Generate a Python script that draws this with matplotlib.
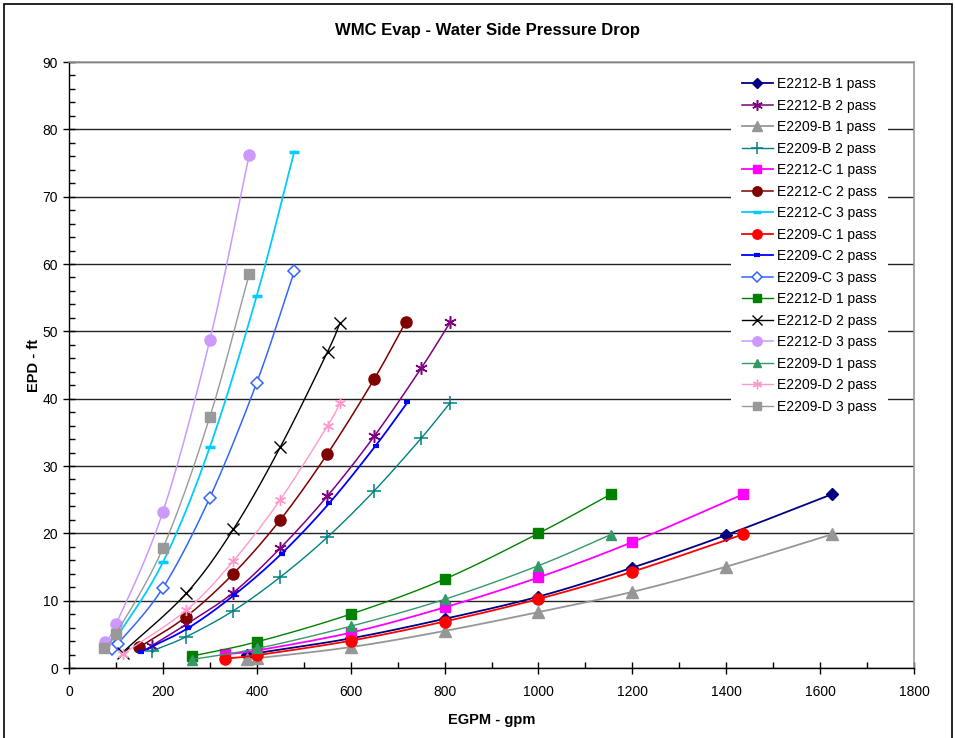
import numpy as np
import matplotlib
matplotlib.use("Agg")
import matplotlib.pyplot as plt
from matplotlib.patches import Rectangle

plt.rcParams['font.family'] = ['Liberation Sans', 'DejaVu Sans']

# === data (gpm, ft) ===
labels = ["E2212-B 1 pass", "E2212-B 2 pass", "E2209-B 1 pass", "E2209-B 2 pass",
          "E2212-C 1 pass", "E2212-C 2 pass", "E2212-C 3 pass", "E2209-C 1 pass",
          "E2209-C 2 pass", "E2209-C 3 pass", "E2212-D 1 pass", "E2212-D 2 pass",
          "E2212-D 3 pass", "E2209-D 1 pass", "E2209-D 2 pass", "E2209-D 3 pass"]

b12_1_x = [380, 600, 800, 1000, 1200, 1400, 1625]
b12_1_y = [2.0, 4.4, 7.3, 10.6, 14.9, 19.75, 25.8]
b12_2_x = [176, 250, 350, 450, 550, 650, 750, 812]
b12_2_y = [3.3, 6.5, 11.2, 17.8, 25.5, 34.4, 44.5, 51.35]
b09_1_x = [380, 400, 600, 800, 1000, 1200, 1400, 1625]
b09_1_y = [1.3, 1.45, 3.1, 5.5, 8.3, 11.3, 15.05, 19.85]
b09_2_x = [176, 250, 350, 450, 550, 650, 750, 812]
b09_2_y = [2.5, 4.65, 8.5, 13.5, 19.4, 26.3, 34.1, 39.4]

c12_1_x = [332, 400, 600, 800, 1000, 1200, 1436]
c12_1_y = [2.05, 2.6, 5.25, 9.0, 13.45, 18.7, 25.8]
c12_2_x = [149, 249, 350, 450, 550, 650, 717]
c12_2_y = [3.05, 7.6, 14.0, 22.0, 31.75, 42.9, 51.35]
c12_3_x = [90, 200, 300, 400, 480]
c12_3_y = [3.3, 15.7, 32.8, 55.3, 76.7]
c09_1_x = [332, 400, 600, 800, 1000, 1200, 1436]
c09_1_y = [1.4, 1.9, 4.05, 6.9, 10.25, 14.3, 19.85]
c09_2_x = [153, 253, 352, 453, 554, 653, 721]
c09_2_y = [2.4, 5.9, 10.85, 17.0, 24.45, 33.0, 39.45]
c09_3_x = [92, 104, 200, 300, 400, 480]
c09_3_y = [2.8, 3.6, 11.9, 25.3, 42.4, 58.9]

d12_1_x = [261, 401, 600, 800, 1000, 1154]
d12_1_y = [1.75, 3.9, 8.0, 13.2, 20.0, 25.8]
d12_2_x = [114, 250, 350, 450, 551, 577]
d12_2_y = [2.3, 11.1, 20.6, 32.8, 47.0, 51.2]
d12_3_x = [76, 100, 200, 300, 384]
d12_3_y = [3.9, 6.5, 23.2, 48.7, 76.2]
d09_1_x = [261, 401, 600, 800, 1000, 1154]
d09_1_y = [1.25, 2.9, 6.2, 10.2, 15.2, 19.8]
d09_2_x = [114, 250, 350, 450, 551, 577]
d09_2_y = [2.05, 8.6, 15.9, 25.0, 36.0, 39.3]
d09_3_x = [75, 100, 200, 300, 384]
d09_3_y = [2.9, 5.1, 17.8, 37.3, 58.5]

xs = [b12_1_x, b12_2_x, b09_1_x, b09_2_x, c12_1_x, c12_2_x, c12_3_x, c09_1_x,
      c09_2_x, c09_3_x, d12_1_x, d12_2_x, d12_3_x, d09_1_x, d09_2_x, d09_3_x]
ys = [b12_1_y, b12_2_y, b09_1_y, b09_2_y, c12_1_y, c12_2_y, c12_3_y, c09_1_y,
      c09_2_y, c09_3_y, d12_1_y, d12_2_y, d12_3_y, d09_1_y, d09_2_y, d09_3_y]

xticks = [0, 200, 400, 600, 800, 1000, 1200, 1400, 1600, 1800]
yticks = [0, 10, 20, 30, 40, 50, 60, 70, 80, 90]

# === styles (Excel default-ish) ===
asterisk = (6, 2, 0)
styles = [
    dict(color='#000080', marker='D', ms=6, mfc='#000080', lw=1.3),
    dict(color='#800080', marker=asterisk, ms=9, mfc='#800080', lw=1.1, mew=1.1),
    dict(color='#969696', marker='^', ms=8, mfc='#969696', lw=1.3),
    dict(color='#008080', marker='+', ms=10, mfc='#008080', lw=1.0, mew=1.1),
    dict(color='#FF00FF', marker='s', ms=7.5, mfc='#FF00FF', lw=1.3),
    dict(color='#800000', marker='o', ms=8, mfc='#800000', lw=1.1),
    dict(color='#00CCFF', marker='_', ms=7, mfc='#00CCFF', lw=1.3, mew=2.5),
    dict(color='#FF0000', marker='o', ms=8, mfc='#FF0000', lw=1.3),
    dict(color='#0000FF', marker='_', ms=5, mfc='#0000FF', lw=1.3, mew=3),
    dict(color='#3366FF', marker='D', ms=6, mfc='white', lw=1.1, mew=1.1),
    dict(color='#008000', marker='s', ms=7.5, mfc='#008000', lw=1.0),
    dict(color='#000000', marker='x', ms=8, mfc='#000000', lw=1.0, mew=1.0),
    dict(color='#CC99FF', marker='o', ms=8, mfc='#CC99FF', lw=1.1),
    dict(color='#339966', marker='^', ms=7.5, mfc='#339966', lw=1.0),
    dict(color='#FF99CC', marker=asterisk, ms=8, mfc='#FF99CC', lw=1.0, mew=1.0),
    dict(color='#999999', marker='s', ms=7.5, mfc='#999999', lw=1.0),
]


def smooth(x, y, n=24):
    # Catmull-Rom curve through the points, like Excel's smoothed line
    p = np.column_stack([x, y]).astype(float)
    if len(p) < 3:
        return p[:, 0], p[:, 1]
    p = np.vstack([2 * p[0] - p[1], p, 2 * p[-1] - p[-2]])
    t = np.linspace(0, 1, n)[:, None]
    segs = []
    for i in range(1, len(p) - 2):
        p0, p1, p2, p3 = p[i - 1], p[i], p[i + 1], p[i + 2]
        seg = 0.5 * ((2 * p1) + (-p0 + p2) * t + (2 * p0 - 5 * p1 + 4 * p2 - p3) * t ** 2
                     + (-p0 + 3 * p1 - 3 * p2 + p3) * t ** 3)
        segs.append(seg if i == 1 else seg[1:])
    c = np.vstack(segs)
    return c[:, 0], c[:, 1]


fig = plt.figure(figsize=(9.55, 7.38), dpi=100)
ax = fig.add_axes([69 / 955, 1 - 668 / 738, 845 / 955, 606 / 738])

for i, (x, y, st) in enumerate(zip(xs, ys, styles)):
    sx, sy = smooth(x, y)
    ax.plot(sx, sy, color=st['color'], lw=st['lw'], zorder=3 + i * 0.1)
    ax.plot(x, y, ls='none', marker=st['marker'], ms=st['ms'], mfc=st['mfc'],
            mec=st['color'], mew=st.get('mew', 1.0), zorder=3 + i * 0.1 + 0.05)
    # legend proxy
    ax.plot([], [], color=st['color'], lw=st['lw'], marker=st['marker'],
            ms=st['ms'] * 0.85, mfc=st['mfc'], mec=st['color'],
            mew=st.get('mew', 1.0), label=labels[i])

ax.set_xlim(0, 1800)
ax.set_ylim(0, 90)
ax.set_xticks(xticks)
ax.set_yticks(yticks)
ax.set_xticks(np.arange(0, 1801, 100), minor=True)
ax.set_yticks(np.arange(0, 91, 2), minor=True)
ax.tick_params(which='major', direction='inout', length=8, width=1, labelsize=10, pad=4)
ax.tick_params(which='minor', direction='in', length=4, width=1)
ax.tick_params(axis='x', pad=8)
ax.yaxis.grid(True, which='major', color='#222222', lw=1.0)
ax.set_axisbelow(True)
for s in ['left', 'bottom']:
    ax.spines[s].set_color('black')
    ax.spines[s].set_linewidth(1.0)
for s in ['top', 'right']:
    ax.spines[s].set_color('#999999')
    ax.spines[s].set_linewidth(1.2)

ax.set_xlabel("EGPM - gpm", fontsize=10.5, fontweight='bold', labelpad=10)
ax.set_ylabel("EPD - ft", fontsize=10.5, fontweight='bold', labelpad=1)
fig.text(487 / 955, 1 - 30 / 738, "WMC Evap - Water Side Pressure Drop",
         ha='center', va='center', fontsize=12, fontweight='bold')

leg = ax.legend(loc='upper left', bbox_to_anchor=((731 - 69) / 845, (668 - 66) / 606),
                frameon=True, fancybox=False, edgecolor='none', facecolor='white',
                framealpha=1, fontsize=10, handlelength=2.2, handletextpad=0.3,
                labelspacing=0.54, borderpad=0.8, borderaxespad=0)
leg.set_zorder(10)

# outer chart-area border
fig.add_artist(Rectangle((4 / 955, -0.1), 948 / 955, 1.1 - 4 / 738,
                         transform=fig.transFigure, fill=False,
                         edgecolor='black', lw=1.2))

fig.savefig("out.png", dpi=100)
